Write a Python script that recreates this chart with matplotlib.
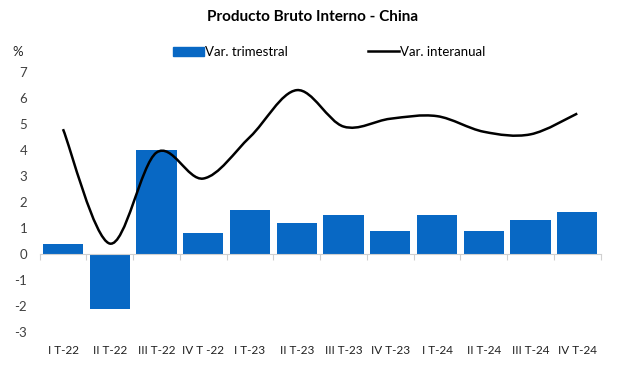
import numpy as np
import matplotlib
matplotlib.use("Agg")
import matplotlib.pyplot as plt
from matplotlib.path import Path
from matplotlib.patches import PathPatch
from matplotlib.lines import Line2D
from matplotlib.patches import Patch
import matplotlib.transforms as mtransforms

plt.rcParams['font.family'] = ['Lato', 'DejaVu Sans']
plt.rcParams['axes.unicode_minus'] = False

quarters = ['I T-22', 'II T-22', 'III T-22', 'IV T -22', 'I T-23', 'II T-23',
            'III T-23', 'IV T-23', 'I T-24', 'II T-24', 'III T-24', 'IV T-24']
var_trimestral = [0.4, -2.1, 4.0, 0.8, 1.7, 1.2, 1.5, 0.9, 1.5, 0.9, 1.3, 1.6]
var_interanual = [4.8, 0.4, 3.9, 2.9, 4.5, 6.3, 4.9, 5.2, 5.3, 4.7, 4.6, 5.4]

blue = '#0868C4'

fig = plt.figure(figsize=(6.25, 3.67), dpi=100)
ax = fig.add_axes([0.0634, 0.0954, 0.8976, 0.7086])

x = np.arange(len(quarters))
ax.bar(x, var_trimestral, width=0.86, color=blue, zorder=2)


# smooth line like a spreadsheet chart (cubic bezier through the points)
def smooth_path(xs, ys):
    pts = np.column_stack([xs, ys])
    n = len(pts)
    verts = [pts[0]]
    codes = [Path.MOVETO]
    for i in range(n - 1):
        p0 = pts[i - 1] if i > 0 else pts[i]
        p1 = pts[i]
        p2 = pts[i + 1]
        p3 = pts[i + 2] if i + 2 < n else pts[i + 1]
        c1 = p1 + (p2 - p0) / 6
        c2 = p2 - (p3 - p1) / 6
        verts += [c1, c2, p2]
        codes += [Path.CURVE4] * 3
    return Path(verts, codes)


ax.add_patch(PathPatch(smooth_path(x, var_interanual), fill=False,
                       edgecolor='black', lw=1.8, zorder=3))

ax.set_xlim(-0.5, len(quarters) - 0.5)
ax.set_ylim(-3, 7)
ax.set_yticks(range(-3, 8))
ax.tick_params(axis='y', length=0, labelsize=9.5, pad=9, colors='#404040')

for s in ['top', 'right', 'left']:
    ax.spines[s].set_visible(False)
ax.spines['bottom'].set_position(('data', 0))
ax.spines['bottom'].set_color('#d0d0d0')
ax.set_xticks(np.arange(-0.5, len(quarters), 1))
ax.set_xticklabels([])
ax.tick_params(axis='x', length=4, color='#d0d0d0', direction='out')

trans = mtransforms.blended_transform_factory(ax.transData, ax.transAxes)
for xi, lab in zip(x, quarters):
    ax.text(xi, -0.07, lab, transform=trans, ha='center', va='center',
            fontsize=8.5, color='#202020')

fig.text(0.5, 0.953, 'Producto Bruto Interno - China', ha='center', va='center',
         fontsize=11, fontweight='bold')
fig.text(0.028, 0.858, '%', ha='center', va='center', fontsize=9.5, color='#202020')

handles = [Patch(color=blue), Line2D([0], [0], color='black', lw=1.8)]
fig.legend(handles, ['Var. trimestral', 'Var. interanual'], ncol=2,
           loc='center', bbox_to_anchor=(0.527, 0.858), frameon=False,
           fontsize=9.5, handlelength=2.3, handletextpad=0.1, columnspacing=6.1)

fig.savefig('out.png', dpi=100)
